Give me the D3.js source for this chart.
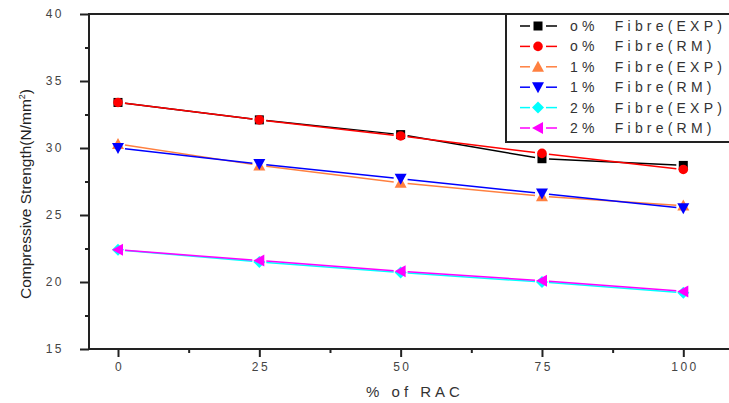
<!DOCTYPE html>
<html>
<head>
<meta charset="utf-8">
<script src="https://cdn.jsdelivr.net/npm/d3@7"></script>
<style>
  body { margin: 0; background: #fff; }
  text { font-family: "Liberation Sans", Arial, sans-serif; }
</style>
</head>
<body>
<script>
const rac = [0, 25, 50, 75, 100];
const fibre0Exp = [33.4, 32.1, 31.0, 29.2, 28.7];
const fibre0Rm = [33.4, 32.1, 30.9, 29.6, 28.4];
const fibre1Exp = [30.3, 28.7, 27.4, 26.4, 25.7];
const fibre1Rm = [30.0, 28.8, 27.7, 26.6, 25.5];
const fibre2Exp = [22.4, 21.5, 20.7, 20.0, 19.2];
const fibre2Rm = [22.4, 21.6, 20.8, 20.1, 19.3];
const seriesNames = ["o%  Fibre(EXP)", "o%  Fibre(RM)", "1%  Fibre(EXP)", "1%  Fibre(RM)", "2%  Fibre(EXP)", "2%  Fibre(RM)"];
const xTicks = [0, 25, 50, 75, 100];
const yTicks = [15, 20, 25, 30, 35, 40];

const series = [
  { name: seriesNames[0], values: fibre0Exp, color: "#000000", symbol: "square" },
  { name: seriesNames[1], values: fibre0Rm, color: "#ff0000", symbol: "circle" },
  { name: seriesNames[2], values: fibre1Exp, color: "#ff8040", symbol: "up" },
  { name: seriesNames[3], values: fibre1Rm, color: "#0000ff", symbol: "down" },
  { name: seriesNames[4], values: fibre2Exp, color: "#00ffff", symbol: "diamond" },
  { name: seriesNames[5], values: fibre2Rm, color: "#ff00ff", symbol: "left" }
];

const w = 729, h = 403;
const pLeft = 89, pRight = 729, pTop = 14, pBottom = 349;

const svg = d3.select("body").append("svg").attr("width", w).attr("height", h);

const x = d3.scaleLinear().domain([0, 100]).range([118, 683.3]);
const y = d3.scaleLinear().domain([15, 40]).range([pBottom, pTop]);

// marker shapes, centred on 0,0
function marker(g, type, color) {
  const s = 5;
  let p;
  if (type === "square") p = g.append("rect").attr("x", -4.5).attr("y", -4.5).attr("width", 9).attr("height", 9);
  else if (type === "circle") p = g.append("circle").attr("r", 4.8);
  else if (type === "up") p = g.append("path").attr("d", `M0,${-s - 1}L${s + 1},${s}L${-s - 1},${s}Z`);
  else if (type === "down") p = g.append("path").attr("d", `M0,${s + 1}L${s + 1},${-s}L${-s - 1},${-s}Z`);
  else if (type === "diamond") p = g.append("path").attr("d", `M0,${-s - 1}L${s + 1},0L0,${s + 1}L${-s - 1},0Z`);
  else p = g.append("path").attr("d", `M${-s - 1},0L${s},${-s - 1}L${s},${s + 1}Z`);
  p.attr("fill", color);
}

// line segments with small gaps at the markers
function gapLine(g, pts, color, gap) {
  for (let i = 0; i < pts.length - 1; i++) {
    const [x0, y0] = pts[i], [x1, y1] = pts[i + 1];
    const len = Math.hypot(x1 - x0, y1 - y0);
    const ux = (x1 - x0) / len, uy = (y1 - y0) / len;
    g.append("line")
      .attr("x1", x0 + ux * gap).attr("y1", y0 + uy * gap)
      .attr("x2", x1 - ux * gap).attr("y2", y1 - uy * gap)
      .attr("stroke", color).attr("stroke-width", 1.5);
  }
}

const plot = svg.append("g");
series.forEach(s => {
  const pts = rac.map((r, i) => [x(r), y(s.values[i])]);
  const g = plot.append("g");
  gapLine(g, pts, s.color, 7);
  pts.forEach(p => marker(g.append("g").attr("transform", `translate(${p[0]},${p[1]})`), s.symbol, s.color));
});

// frame
const frame = svg.append("g").attr("stroke", "#222").attr("stroke-width", 2);
frame.append("line").attr("x1", pLeft).attr("x2", pRight).attr("y1", pTop).attr("y2", pTop);
frame.append("line").attr("x1", pLeft).attr("x2", pLeft).attr("y1", pTop - 1).attr("y2", pBottom + 1);
frame.append("line").attr("x1", pLeft).attr("x2", pRight).attr("y1", pBottom).attr("y2", pBottom);

// x axis ticks
const xa = svg.append("g").attr("transform", `translate(0,${pBottom})`)
  .call(d3.axisBottom(x).tickValues(xTicks).tickSize(8).tickPadding(5));
xa.select(".domain").remove();
xa.selectAll(".tick line").attr("stroke", "#222").attr("stroke-width", 2);
xa.selectAll(".tick text").attr("font-size", 12).attr("fill", "#444").attr("letter-spacing", 2.5)
  .attr("dx", 1.2).attr("font-family", "Liberation Sans, Arial, sans-serif");
const xm = svg.append("g").attr("transform", `translate(0,${pBottom})`)
  .call(d3.axisBottom(x).tickValues([12.5, 37.5, 62.5, 87.5]).tickSize(4).tickFormat(""));
xm.select(".domain").remove();
xm.selectAll(".tick line").attr("stroke", "#222").attr("stroke-width", 2);

// y axis ticks
const ya = svg.append("g").attr("transform", `translate(${pLeft},0)`)
  .call(d3.axisLeft(y).tickValues(yTicks).tickSize(9).tickPadding(16));
ya.select(".domain").remove();
ya.selectAll(".tick line").attr("stroke", "#222").attr("stroke-width", 2);
ya.selectAll(".tick text").attr("font-size", 12).attr("fill", "#444").attr("letter-spacing", 2.5)
  .attr("font-family", "Liberation Sans, Arial, sans-serif");
const ym = svg.append("g").attr("transform", `translate(${pLeft},0)`)
  .call(d3.axisLeft(y).tickValues([17.5, 22.5, 27.5, 32.5, 37.5]).tickSize(4).tickFormat(""));
ym.select(".domain").remove();
ym.selectAll(".tick line").attr("stroke", "#222").attr("stroke-width", 2);

// axis titles
svg.append("text").attr("x", 415).attr("y", 397).attr("text-anchor", "middle")
  .attr("font-size", 15).attr("letter-spacing", 4).attr("fill", "#333").text("% of RAC");

const yl = svg.append("text").attr("transform", "translate(31,194) rotate(-90)")
  .attr("text-anchor", "middle").attr("font-size", 15.5).attr("fill", "#222");
yl.append("tspan").text("Compressive Strength(N/mm");
yl.append("tspan").attr("font-size", 9).attr("dy", -6).text("2");
yl.append("tspan").attr("dy", 6).text(")");

// legend
const lg = svg.append("g");
lg.append("rect").attr("x", 506).attr("y", pTop).attr("width", 240).attr("height", 128)
  .attr("fill", "#fff").attr("stroke", "#222").attr("stroke-width", 2);
series.forEach((s, i) => {
  const ly = 26 + i * 20.4;
  const g = lg.append("g");
  gapLine(g, [[512, ly], [538, ly], [565, ly]], s.color, 8);
  marker(g.append("g").attr("transform", `translate(538,${ly})`), s.symbol, s.color);
  g.append("text").attr("x", 570).attr("y", ly + 5).attr("font-size", 14).attr("letter-spacing", 4.2)
    .attr("fill", "#333").style("white-space", "pre").text(s.name);
});
</script>
</body>
</html>
